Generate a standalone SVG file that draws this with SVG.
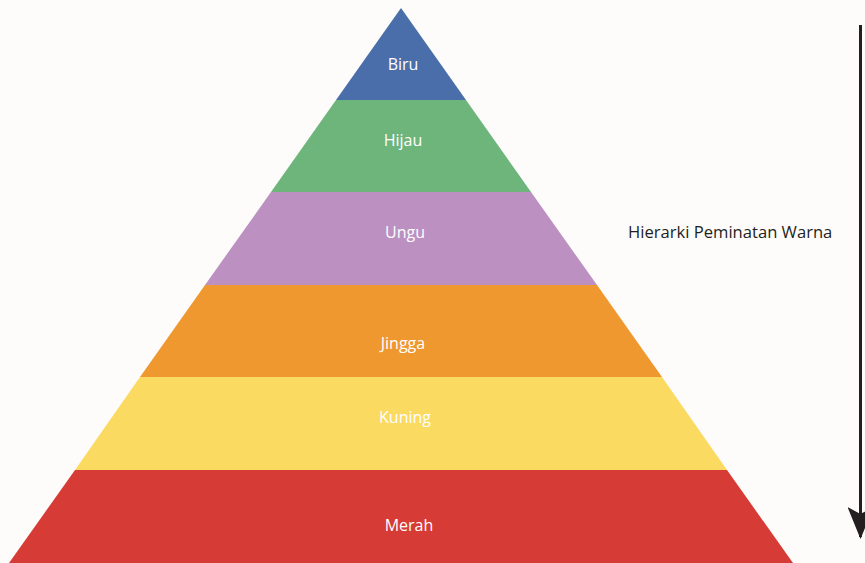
<svg xmlns="http://www.w3.org/2000/svg" width="865" height="563" viewBox="0 0 865 563">
<defs>
<style>
.lbl{font-family:"Open Sans","Liberation Sans",sans-serif;font-size:16px;fill:#ffffff;text-anchor:middle}
.side{font-family:"Open Sans","Liberation Sans",sans-serif;font-size:16.6px;fill:#231f20}
</style>
<marker id="ah" viewBox="0 0 32 26" refX="30" refY="13" markerWidth="32" markerHeight="26" markerUnits="userSpaceOnUse" orient="auto">
<path d="M0,0 L32,13 L0,26 L7,13 Z" fill="#231f20"/>
</marker>
</defs>
<rect width="865" height="563" fill="#fdfcfb"/>
<g id="biru"><polygon points="401,8 466,100 336,100" fill="#4a6ea9"/><text class="lbl" x="403" y="70">Biru</text></g>
<g id="hijau"><polygon points="336,100 466,100 531,192 271,192" fill="#6db57b"/><text class="lbl" x="403" y="146">Hijau</text></g>
<g id="ungu"><polygon points="271,192 531,192 597,285 205,285" fill="#bc91c2"/><text class="lbl" x="405" y="238">Ungu</text></g>
<g id="jingga"><polygon points="205,285 597,285 662,377 140,377" fill="#ee982f"/><text class="lbl" x="403" y="349">Jingga</text></g>
<g id="kuning"><polygon points="140,377 662,377 727,470 75,470" fill="#fada61"/><text class="lbl" x="405" y="423">Kuning</text></g>
<g id="merah"><polygon points="75,470 727,470 793,563 9,563" fill="#d63b35"/><text class="lbl" x="409" y="531">Merah</text></g>
<g id="label"><text class="side" x="628" y="238">Hierarki Peminatan Warna</text></g>
<g id="connectors"><line x1="860.5" y1="25" x2="860.5" y2="537" stroke="#231f20" stroke-width="3" marker-end="url(#ah)"/></g>
</svg>
